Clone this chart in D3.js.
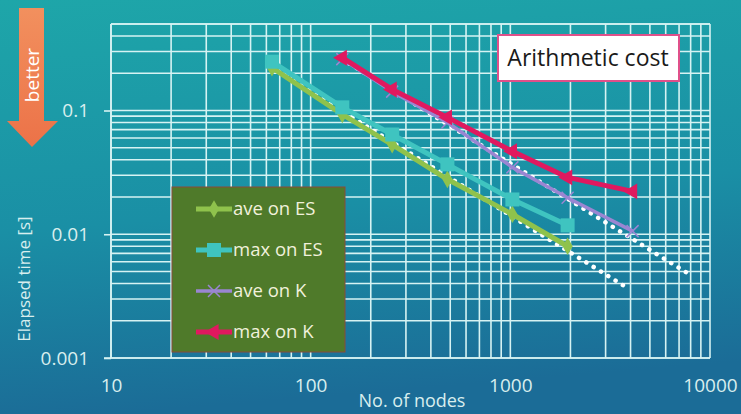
<!DOCTYPE html>
<meta charset="utf-8">
<head>
  <title>Arithmetic cost</title>
</head>

<style>
body {
  margin: 0;
  font-family: "Open Sans", "Noto Sans", sans-serif;
}
svg { display: block; }
</style>

<body>
  <div id="content"></div>

  <script src="https://cdnjs.cloudflare.com/ajax/libs/d3/7.8.5/d3.min.js"></script>

  <script>
// node counts (x) and elapsed times (y)
var nodesES = [64, 144, 256, 484, 1024, 1936];
var nodesK = [144, 256, 484, 1024, 1936, 4096];

var aveES = [0.222, 0.093, 0.053, 0.0278, 0.0145, 0.0080];
var maxES = [0.248, 0.106, 0.064, 0.0367, 0.0191, 0.0118];
var aveK = [0.26, 0.142, 0.080, 0.0347, 0.0197, 0.0106];
var maxK = [0.267, 0.148, 0.088, 0.0468, 0.0288, 0.0222];

// ideal scaling (dotted white)
var idealESNodes = [64, 3800];
var idealESTime = [0.222, 0.00374];
var idealKNodes = [144, 7744];
var idealKTime = [0.26, 0.00483];

var xTickLabels = ['10', '100', '1000', '10000'];
var yTickLabels = ['0.001', '0.01', '0.1'];

var W = 741, H = 414;

var svg = d3.select('#content').append('svg')
  .attr('width', W)
  .attr('height', H);

// background
var defs = svg.append('defs');
var bg = defs.append('linearGradient').attr('id', 'bg')
  .attr('x1', 0).attr('y1', 0).attr('x2', 0.15).attr('y2', 1);
bg.append('stop').attr('offset', 0).attr('stop-color', '#1ea6a9');
bg.append('stop').attr('offset', 0.55).attr('stop-color', '#1a8fa5');
bg.append('stop').attr('offset', 1).attr('stop-color', '#1b6c97');
svg.append('rect').attr('width', W).attr('height', H).attr('fill', 'url(#bg)');

var arrowGrad = defs.append('linearGradient').attr('id', 'arrowGrad')
  .attr('x1', 0).attr('y1', 0).attr('x2', 0).attr('y2', 1);
arrowGrad.append('stop').attr('offset', 0).attr('stop-color', '#f2905e');
arrowGrad.append('stop').attr('offset', 1).attr('stop-color', '#ec7248');

var x = d3.scaleLog().domain([10, 10000]).range([111, 710]);
var y = d3.scaleLog().domain([0.001, 0.5]).range([358, 24]);

var gridColor = '#d6f3f3';
var labelColor = '#d8eeee';

// grid
var grid = svg.append('g');
grid.selectAll('line.v')
  .data(x.ticks())
  .enter().append('line')
  .attr('x1', d => x(d)).attr('x2', d => x(d))
  .attr('y1', y(0.5)).attr('y2', y(0.001))
  .attr('stroke', gridColor).attr('stroke-width', 1.6);
grid.selectAll('line.h')
  .data(y.ticks())
  .enter().append('line')
  .attr('y1', d => y(d)).attr('y2', d => y(d))
  .attr('x1', x(10)).attr('x2', x(10000))
  .attr('stroke', gridColor).attr('stroke-width', 1.6);
grid.append('line')
  .attr('x1', x(10)).attr('x2', x(10000))
  .attr('y1', y(0.5)).attr('y2', y(0.5))
  .attr('stroke', gridColor).attr('stroke-width', 1.6);

// axes (labels only, grid draws the lines)
var xAxis = d3.axisBottom(x)
  .tickValues([10, 100, 1000, 10000])
  .tickFormat((d, i) => xTickLabels[i])
  .tickSize(0).tickPadding(21);
var gx = svg.append('g').attr('transform', 'translate(0,' + y(0.001) + ')').call(xAxis);
gx.select('.domain').attr('stroke', gridColor).attr('stroke-width', 1.6)
  .attr('d', 'M' + (x(10) - 7) + ',0H' + x(10000));

var yAxis = d3.axisLeft(y)
  .tickValues([0.001, 0.01, 0.1])
  .tickFormat((d, i) => yTickLabels[i])
  .tickSize(7).tickPadding(15);
var gy = svg.append('g').attr('transform', 'translate(' + x(10) + ',0)').call(yAxis);
gy.select('.domain').attr('stroke', gridColor).attr('stroke-width', 1.6)
  .attr('d', 'M0,' + y(0.5) + 'V' + y(0.001));
gy.selectAll('.tick line').attr('stroke', gridColor).attr('stroke-width', 1.6);

svg.selectAll('.tick text')
  .attr('fill', labelColor)
  .style('font-size', '19px')
  .style('font-family', '"Open Sans", sans-serif');

svg.append('text')
  .attr('x', 412).attr('y', 407)
  .attr('text-anchor', 'middle')
  .attr('fill', labelColor)
  .style('font-size', '18px')
  .text('No. of nodes');

svg.append('text')
  .attr('transform', 'translate(30,279) rotate(-90)')
  .attr('text-anchor', 'middle')
  .attr('fill', labelColor)
  .style('font-size', '17px')
  .text('Elapsed time [s]');

// ideal scaling lines
var line = d3.line().x(d => x(d[0])).y(d => y(d[1]));

[[idealESNodes, idealESTime], [idealKNodes, idealKTime]].forEach(function(p) {
  svg.append('path')
    .attr('d', line(d3.zip(p[0], p[1])))
    .attr('fill', 'none')
    .attr('stroke', '#ffffff')
    .attr('stroke-width', 4.5)
    .attr('stroke-linecap', 'round')
    .attr('stroke-dasharray', '0.1,8.5');
});

var series = [
  { name: 'ave on ES', nodes: nodesES, vals: aveES, color: '#8fc24c', width: 5, marker: 'diamond' },
  { name: 'max on ES', nodes: nodesES, vals: maxES, color: '#3fc4c0', width: 5, marker: 'square' },
  { name: 'ave on K', nodes: nodesK, vals: aveK, color: '#9a86d2', width: 3.5, marker: 'cross' },
  { name: 'max on K', nodes: nodesK, vals: maxK, color: '#e0195f', width: 5, marker: 'triangle' }
];

function drawMarker(g, s, cx, cy) {
  if (s.marker === 'square') {
    g.append('rect').attr('x', cx - 7).attr('y', cy - 7).attr('width', 14).attr('height', 14)
      .attr('fill', s.color);
  } else if (s.marker === 'diamond') {
    g.append('path').attr('d', d3.symbol().type(d3.symbolDiamond).size(90)())
      .attr('transform', 'translate(' + cx + ',' + cy + ')').attr('fill', s.color);
  } else if (s.marker === 'cross') {
    g.append('path').attr('d', 'M-6,-6L6,6M-6,6L6,-6')
      .attr('transform', 'translate(' + cx + ',' + cy + ')')
      .attr('stroke', s.color).attr('stroke-width', 1.5);
  } else {
    g.append('path').attr('d', d3.symbol().type(d3.symbolTriangle).size(110)())
      .attr('transform', 'translate(' + cx + ',' + cy + ') rotate(30)').attr('fill', s.color);
  }
}

series.forEach(function(s) {
  var g = svg.append('g');
  var pts = d3.zip(s.nodes, s.vals);
  g.append('path')
    .attr('d', line(pts))
    .attr('fill', 'none')
    .attr('stroke', s.color)
    .attr('stroke-width', s.width)
    .attr('stroke-linejoin', 'round');
  pts.forEach(function(p) { drawMarker(g, s, x(p[0]), y(p[1])); });
});

// legend
var lg = svg.append('g');
lg.append('rect')
  .attr('x', 172).attr('y', 187).attr('width', 173).attr('height', 165)
  .attr('fill', '#4f7a2a').attr('stroke', '#8a4a3a').attr('stroke-width', 1);
series.forEach(function(s, i) {
  var ly = 209 + i * 41;
  lg.append('line')
    .attr('x1', 196).attr('x2', 232).attr('y1', ly).attr('y2', ly)
    .attr('stroke', s.color).attr('stroke-width', s.width);
  drawMarker(lg, s, 214, ly);
  lg.append('text')
    .attr('x', 233).attr('y', ly + 6)
    .attr('fill', '#f1f1dc')
    .style('font-size', '18.5px')
    .text(s.name);
});

// title box
svg.append('rect')
  .attr('x', 498).attr('y', 35).attr('width', 181).attr('height', 46)
  .attr('fill', '#ffffff').attr('stroke', '#e0508a').attr('stroke-width', 2);
svg.append('text')
  .attr('x', 588).attr('y', 66)
  .attr('text-anchor', 'middle')
  .attr('fill', '#1a1a1a')
  .style('font-size', '23px')
  .text('Arithmetic cost');

// "better" arrow
svg.append('path')
  .attr('d', 'M19,8H44V121H58L32,147L7,121H19Z')
  .attr('fill', 'url(#arrowGrad)');
svg.append('text')
  .attr('transform', 'translate(39,75) rotate(-90)')
  .attr('text-anchor', 'middle')
  .attr('fill', '#ffffff')
  .style('font-size', '19px')
  .text('better');
  </script>
</body>
</html>
